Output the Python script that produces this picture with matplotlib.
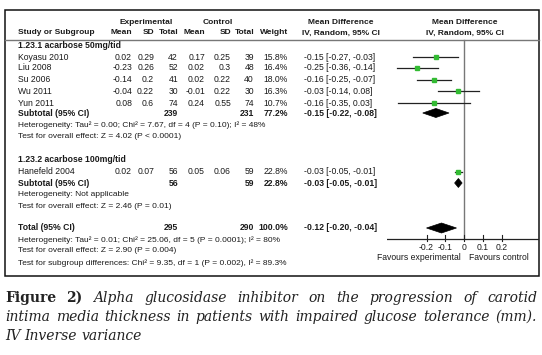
"""
Forest plot: alpha glucosidase inhibitor vs control, carotid IMT (RevMan style)
"""
import matplotlib
matplotlib.use("Agg")
import matplotlib.pyplot as plt
from matplotlib.patches import Polygon, Rectangle

# data
studies = ["Koyasu 2010", "Liu 2008", "Su 2006", "Wu 2011", "Yun 2011", "Hanefeld 2004"]
exp_mean = [0.02, -0.23, -0.14, -0.04, 0.08, 0.02]
exp_sd = [0.29, 0.26, 0.2, 0.22, 0.6, 0.07]
exp_n = [42, 52, 41, 30, 74, 56]
ctl_mean = [0.17, 0.02, 0.02, -0.01, 0.24, 0.05]
ctl_sd = [0.25, 0.3, 0.22, 0.22, 0.55, 0.06]
ctl_n = [39, 48, 40, 30, 74, 59]
weight = [15.8, 16.4, 18.0, 16.3, 10.7, 22.8]
md = [-0.15, -0.25, -0.16, -0.03, -0.16, -0.03]
md_lo = [-0.27, -0.36, -0.25, -0.14, -0.35, -0.05]
md_hi = [-0.03, -0.14, -0.07, 0.08, 0.03, -0.01]

# subtotals / total
pooled_labels = ["Subtotal (95% CI)", "Subtotal (95% CI)", "Total (95% CI)"]
pooled_exp_n = [239, 56, 295]
pooled_ctl_n = [231, 59, 290]
pooled_weight = [77.2, 22.8, 100.0]
pooled_md = [-0.15, -0.03, -0.12]
pooled_lo = [-0.22, -0.05, -0.20]
pooled_hi = [-0.08, -0.01, -0.04]

ticks = [-0.2, -0.1, 0, 0.1, 0.2]
tick_labels = ["-0.2", "-0.1", "0", "0.1", "0.2"]

# layout (pixels, top origin)
study_y = [57, 68, 80, 91, 103, 172]
pooled_y = [113, 183, 228]
col_right = [132, 154, 178, 205, 231, 254, 288]  # exp mean, sd, n, ctl mean, sd, n, weight
md_text_x = 304
FONT = "Liberation Sans"
TXT = "#1a1a1a"
FS = 6.2

fig = plt.figure(figsize=(5.42, 3.55), dpi=100)
ax = fig.add_axes([0, 0, 1, 1])
ax.set_xlim(0, 542)
ax.set_ylim(355, 0)
ax.axis("off")


def t(x, y, s, ha="left", bold=False, size=FS):
    ax.text(x, y, s, ha=ha, va="center", fontsize=size, family=FONT,
            fontweight="bold" if bold else "normal", color=TXT)


# frame and header line
ax.add_patch(Rectangle((5, 10), 534, 266, fill=False, ec="#111111", lw=1.1))
ax.plot([5, 539], [40, 40], color="#777777", lw=1.0)

# header
HS = 6.0
t(146, 23, "Experimental", ha="center", bold=True, size=HS)
t(218, 23, "Control", ha="center", bold=True, size=HS)
t(341, 23, "Mean Difference", ha="center", bold=True, size=HS)
t(465, 23, "Mean Difference", ha="center", bold=True, size=HS)
t(18, 33, "Study or Subgroup", bold=True, size=HS)
for x, s in zip(col_right, ["Mean", "SD", "Total", "Mean", "SD", "Total", "Weight"]):
    t(x, 33, s, ha="right", bold=True, size=HS)
t(341, 33, "IV, Random, 95% CI", ha="center", bold=True, size=HS)
t(465, 33, "IV, Random, 95% CI", ha="center", bold=True, size=HS)

t(18, 45, "1.23.1 acarbose 50mg/tid", bold=True)
t(18, 160, "1.23.2 acarbose 100mg/tid", bold=True)

# study rows
for i, y in enumerate(study_y):
    t(18, y, studies[i])
    vals = [str(exp_mean[i]), str(exp_sd[i]), str(exp_n[i]),
            str(ctl_mean[i]), str(ctl_sd[i]), str(ctl_n[i]), "%.1f%%" % weight[i]]
    for x, s in zip(col_right, vals):
        t(x, y, s, ha="right")
    t(md_text_x, y, "%.2f [%.2f, %.2f]" % (md[i], md_lo[i], md_hi[i]))

# pooled rows
for i, y in enumerate(pooled_y):
    t(18, y, pooled_labels[i], bold=True)
    t(col_right[2], y, str(pooled_exp_n[i]), ha="right", bold=True)
    t(col_right[5], y, str(pooled_ctl_n[i]), ha="right", bold=True)
    t(col_right[6], y, "%.1f%%" % pooled_weight[i], ha="right", bold=True)
    t(md_text_x, y, "%.2f [%.2f, %.2f]" % (pooled_md[i], pooled_lo[i], pooled_hi[i]), bold=True)

# heterogeneity / tests
notes = [
    (125, "Heterogeneity: Tau\u00b2 = 0.00; Chi\u00b2 = 7.67, df = 4 (P = 0.10); I\u00b2 = 48%"),
    (136, "Test for overall effect: Z = 4.02 (P < 0.0001)"),
    (195, "Heterogeneity: Not applicable"),
    (206, "Test for overall effect: Z = 2.46 (P = 0.01)"),
    (240, "Heterogeneity: Tau\u00b2 = 0.01; Chi\u00b2 = 25.06, df = 5 (P = 0.0001); I\u00b2 = 80%"),
    (251, "Test for overall effect: Z = 2.90 (P = 0.004)"),
    (263, "Test for subgroup differences: Chi\u00b2 = 9.35, df = 1 (P = 0.002), I\u00b2 = 89.3%"),
]
for y, s in notes:
    t(18, y, s, size=6.0)

# forest panel
fx = fig.add_axes([387 / 542, 0, 152 / 542, 1])
fx.set_xlim(-77 / 187.5, 75 / 187.5)
fx.set_ylim(355, 0)
fx.axis("off")

fx.plot([0, 0], [40, 239], color="#777777", lw=1.0)
fx.axhline(239, color="#222222", lw=0.9)
for tk, lab in zip(ticks, tick_labels):
    fx.plot([tk, tk], [235, 241], color="#222222", lw=0.8)
    fx.text(tk, 247, lab, ha="center", va="center", fontsize=FS, family=FONT, color=TXT)
fx.text(-0.015, 257, "Favours experimental", ha="right", va="center", fontsize=FS, family=FONT, color=TXT)
fx.text(0.025, 257, "Favours control", ha="left", va="center", fontsize=FS, family=FONT, color=TXT)

for i, y in enumerate(study_y):
    fx.plot([md_lo[i], md_hi[i]], [y, y], color="#222222", lw=0.9)
    fx.plot(md[i], y, marker="s", ms=2.4 + 0.04 * weight[i], color="#33bb33", mec="#33bb33")

for i, y in enumerate(pooled_y):
    h = 5 if i == 2 else 4.5
    fx.add_patch(Polygon([(pooled_lo[i], y), (pooled_md[i], y - h),
                          (pooled_hi[i], y), (pooled_md[i], y + h)],
                         closed=True, fc="black", ec="black", lw=0.5))

# caption, justified like the journal layout
fig.canvas.draw()
renderer = fig.canvas.get_renderer()


def justify(words, y, x0=5, x1=537, fill=True):
    objs = []
    for w, bold, ital in words:
        o = ax.text(0, y, w, fontsize=10, family="DejaVu Serif", va="baseline",
                    fontweight="bold" if bold else "normal",
                    fontstyle="italic" if ital else "normal", color="#222222")
        objs.append(o)
    widths = [o.get_window_extent(renderer).width for o in objs]
    gap = (x1 - x0 - sum(widths)) / (len(objs) - 1) if fill else 4.0
    x = x0
    for o, w in zip(objs, widths):
        o.set_x(x)
        x += w + gap


line1 = [("Figure", True, False), ("2)", True, False)] + \
    [(w, False, True) for w in "Alpha glucosidase inhibitor on the progression of carotid".split()]
line2 = [(w, False, True) for w in
         "intima media thickness in patients with impaired glucose tolerance (mm).".split()]
line3 = [(w, False, True) for w in "IV Inverse variance".split()]
justify(line1, 302)
justify(line2, 321)
justify(line3, 340, fill=False)

fig.savefig("out.png", dpi=100)
